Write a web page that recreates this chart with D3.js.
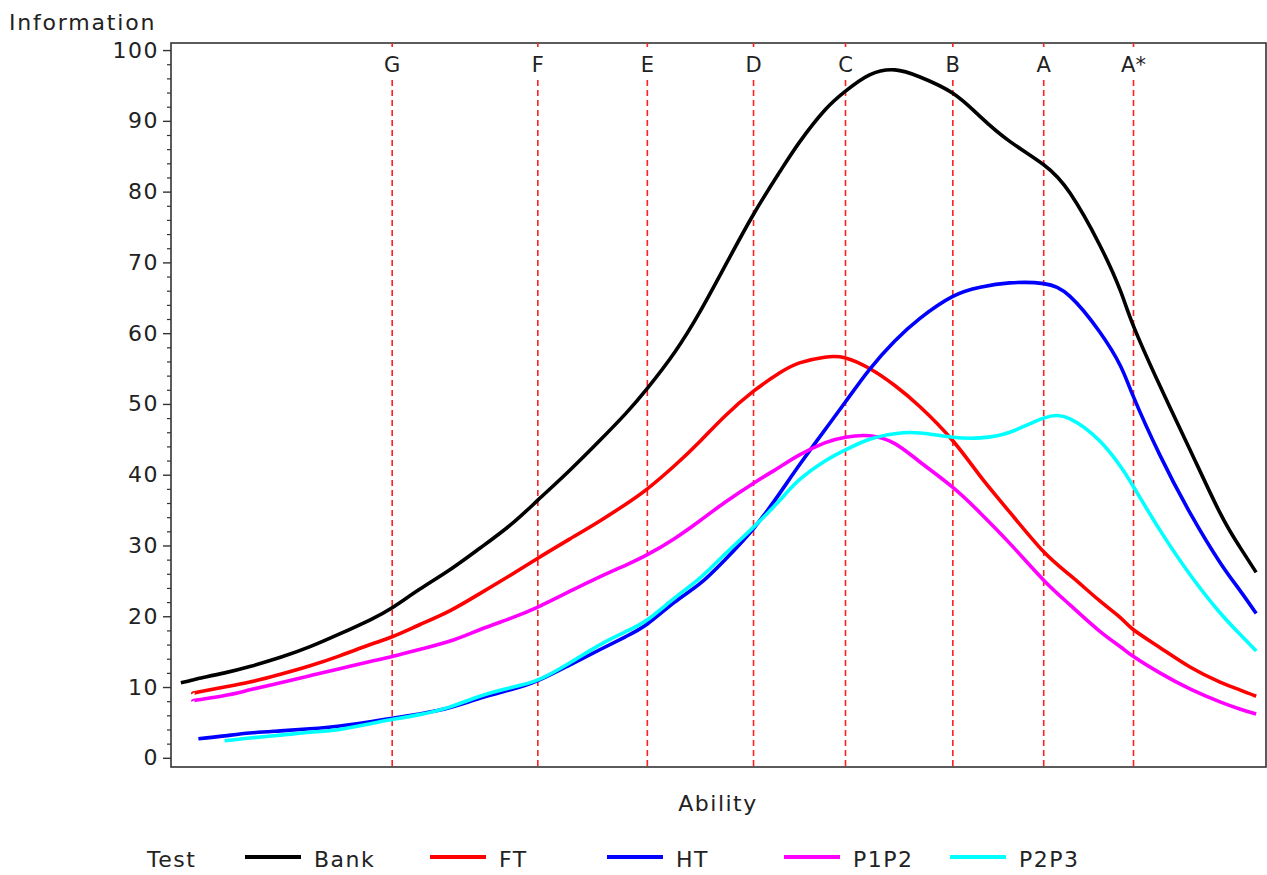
<!DOCTYPE html>
<html>
<head>
<meta charset="utf-8">
<script src="https://cdn.jsdelivr.net/npm/d3@7"></script>
<style>
  html, body { margin: 0; padding: 0; background: #fff; }
  svg text { font-family: "DejaVu Sans", "Liberation Sans", sans-serif; fill: #222; }
</style>
</head>
<body>
<svg id="chart" width="1267" height="875"></svg>
<script>
// ---------------- data ----------------
const ability = [-4.91, -4.80, -4.75, -4.51, -4.28, -4.00, -3.73, -3.46, -3.18, -2.98,
  -2.73, -2.45, -2.18, -1.90, -1.65, -1.36, -1.08, -0.85, -0.65, -0.40,
  -0.17, 0.06, 0.32, 0.56, 0.74, 0.97, 1.16, 1.38, 1.61, 1.84,
  2.14, 2.39, 2.66, 2.97, 3.21, 3.48, 3.67, 3.79, 4.03, 4.31,
  4.58, 4.76, 4.91];

const bank = [10.6, 11.0, 11.2, 12.0, 12.9, 14.2, 15.7, 17.5, 19.5, 21.2,
  23.8, 26.6, 29.6, 32.9, 36.4, 40.6, 44.9, 48.6, 52.2, 57.3,
  63.0, 69.5, 76.8, 82.8, 87.0, 91.5, 94.2, 96.5, 97.2, 96.2,
  93.9, 90.6, 87.1, 83.8, 79.8, 72.5, 66.0, 61.0, 52.6, 43.4,
  34.6, 29.8, 26.2];

const ft = [null, 9.1, 9.3, 10.0, 10.7, 11.8, 13.0, 14.4, 16.0, 17.1,
  18.8, 20.8, 23.2, 25.8, 28.2, 30.9, 33.5, 35.8, 38.0, 41.3,
  44.7, 48.3, 51.8, 54.4, 55.8, 56.6, 56.5, 55.0, 52.6, 49.6,
  44.8, 39.8, 34.7, 29.1, 25.8, 22.2, 19.8, 18.1, 15.6, 12.8,
  10.7, 9.6, 8.7];

const ht = [null, null, 2.7, 3.1, 3.5, 3.8, 4.1, 4.5, 5.1, 5.6,
  6.2, 7.1, 8.4, 9.6, 10.9, 13.1, 15.3, 17.1, 18.9, 22.0,
  24.6, 28.0, 32.4, 37.4, 41.4, 46.3, 50.3, 54.9, 58.9, 62.1,
  65.2, 66.5, 67.1, 67.0, 65.2, 60.2, 55.4, 51.0, 42.8, 34.5,
  27.6, 23.7, 20.4];

const p1p2 = [null, 8.0, 8.2, 8.8, 9.6, 10.6, 11.6, 12.6, 13.6, 14.3,
  15.3, 16.5, 18.1, 19.7, 21.3, 23.5, 25.6, 27.2, 28.7, 31.0,
  33.5, 36.1, 38.8, 41.1, 42.8, 44.5, 45.3, 45.5, 44.4, 41.8,
  38.2, 34.6, 30.3, 25.1, 21.6, 17.9, 15.7, 14.3, 12.0, 9.7,
  7.9, 6.9, 6.2];

const p2p3 = [null, null, null, 2.4, 2.8, 3.2, 3.6, 4.0, 4.8, 5.4,
  6.1, 7.2, 8.7, 9.9, 11.0, 13.4, 16.0, 17.8, 19.5, 22.6,
  25.4, 28.8, 32.6, 36.4, 39.3, 41.9, 43.5, 45.0, 45.8, 45.9,
  45.3, 45.2, 46.0, 48.0, 47.9, 44.8, 41.2, 38.3, 32.2, 25.8,
  20.5, 17.5, 15.1];

const seriesNames = ["Bank", "FT", "HT", "P1P2", "P2P3"];
const seriesColors = ["#000000", "#ff0000", "#0000ff", "#ff00ff", "#00ffff"];
const seriesValues = [bank, ft, ht, p1p2, p2p3];

const gradeLabels = ["G", "F", "E", "D", "C", "B", "A", "A*"];
const gradeCuts = [-2.98, -1.65, -0.65, 0.32, 1.16, 2.14, 2.97, 3.79];

const yTicks = [0, 10, 20, 30, 40, 50, 60, 70, 80, 90, 100];

// ---------------- layout ----------------
const svg = d3.select("#chart");
const plotLeft = 171, plotRight = 1266, plotTop = 43, plotBottom = 767;
const fontCss = '"DejaVu Sans", "Liberation Sans", sans-serif';

const x = d3.scaleLinear().domain([-5, 5]).range([plotLeft, plotRight]);
const y = d3.scaleLinear().domain([-1.3, 101]).range([plotBottom, plotTop]);

// Frame
svg.append("rect")
  .attr("x", plotLeft).attr("y", plotTop)
  .attr("width", plotRight - plotLeft).attr("height", plotBottom - plotTop)
  .attr("fill", "none").attr("stroke", "#333").attr("stroke-width", 1.6);

// Y axis: major ticks
const yAxis = d3.axisLeft(y).tickValues(yTicks).tickSize(8).tickPadding(4).tickFormat(d3.format("d"));
const gY = svg.append("g").attr("transform", `translate(${plotLeft},0)`).call(yAxis);
gY.select(".domain").remove();
gY.selectAll(".tick line").attr("stroke", "#333").attr("stroke-width", 1.4);
gY.selectAll(".tick text")
  .style("font-family", fontCss)
  .style("font-size", "22px")
  .style("letter-spacing", "1.5px")
  .attr("fill", "#222");

// minor ticks
const minorVals = d3.range(0, 101, 2).filter(v => v % 10 !== 0);
const yMinor = d3.axisLeft(y).tickValues(minorVals).tickSize(4).tickFormat("");
const gYm = svg.append("g").attr("transform", `translate(${plotLeft},0)`).call(yMinor);
gYm.select(".domain").remove();
gYm.selectAll(".tick line").attr("stroke", "#333").attr("stroke-width", 1.2);

// Grade reference lines
const gGrades = svg.append("g");
gradeCuts.forEach((c, i) => {
  const gx = x(c);
  gGrades.append("line")
    .attr("x1", gx).attr("x2", gx).attr("y1", plotTop).attr("y2", plotTop + 4)
    .attr("stroke", "#ff2020").attr("stroke-width", 1.6);
  gGrades.append("line")
    .attr("x1", gx).attr("x2", gx).attr("y1", 80).attr("y2", plotBottom)
    .attr("stroke", "#ff2020").attr("stroke-width", 1.6)
    .attr("stroke-dasharray", "6,4");
  gGrades.append("text")
    .attr("x", gx).attr("y", 72)
    .attr("text-anchor", "middle")
    .style("font-size", "21px")
    .text(gradeLabels[i]);
});

// Curves
const line = d3.line()
  .defined(d => d[1] !== null)
  .x(d => x(d[0]))
  .y(d => y(d[1]))
  .curve(d3.curveNatural);

seriesValues.forEach((vals, i) => {
  const pts = ability.map((a, k) => [a, vals[k]]).filter(d => d[1] !== null);
  svg.append("path")
    .datum(pts)
    .attr("d", line)
    .attr("fill", "none")
    .attr("stroke", seriesColors[i])
    .attr("stroke-width", 3.6)
    .attr("stroke-linejoin", "round")
    .attr("stroke-linecap", "butt");
});

// Axis titles
svg.append("text")
  .attr("x", 9).attr("y", 30)
  .style("font-size", "22px")
  .style("letter-spacing", "1.8px")
  .text("Information");

svg.append("text")
  .attr("x", 718).attr("y", 811)
  .attr("text-anchor", "middle")
  .style("font-size", "22px")
  .style("letter-spacing", "1.5px")
  .text("Ability");

// Legend
const legendY = 857;
svg.append("text")
  .attr("x", 147).attr("y", legendY + 10)
  .style("font-size", "22px")
  .style("letter-spacing", "1.5px")
  .text("Test");

const legendLineX = [245, 430, 607, 784, 950];
seriesNames.forEach((name, i) => {
  const lx = legendLineX[i];
  svg.append("line")
    .attr("x1", lx).attr("x2", lx + 56)
    .attr("y1", legendY).attr("y2", legendY)
    .attr("stroke", seriesColors[i]).attr("stroke-width", 4);
  svg.append("text")
    .attr("x", lx + 69).attr("y", legendY + 10)
    .style("font-size", "22px")
    .style("letter-spacing", "1.5px")
    .text(name);
});
</script>
</body>
</html>
